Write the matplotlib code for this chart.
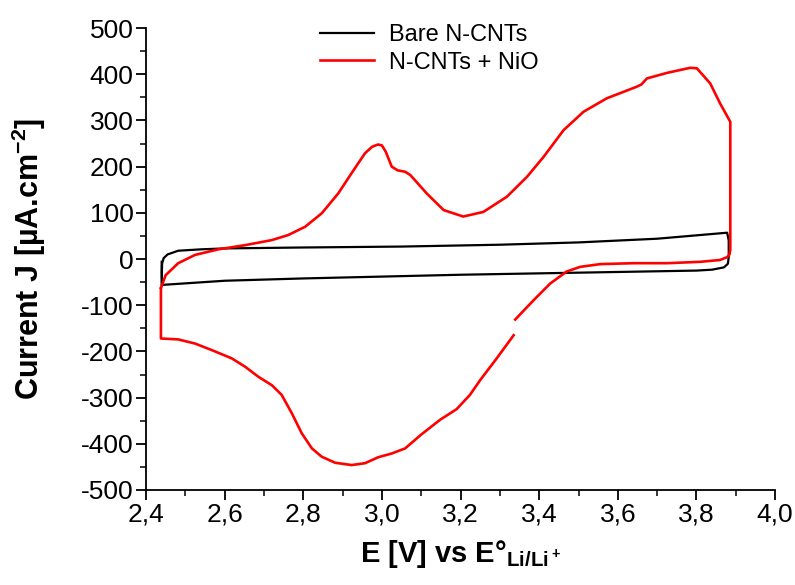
# CV curves: bare N-CNTs vs N-CNTs + NiO

import matplotlib
matplotlib.use("Agg")
import matplotlib.pyplot as plt
from matplotlib.ticker import MultipleLocator, FuncFormatter

plt.rcParams['font.family'] = ['Liberation Sans', 'DejaVu Sans']
plt.rcParams['mathtext.fontset'] = 'custom'
plt.rcParams['mathtext.rm'] = 'Liberation Sans'
plt.rcParams['mathtext.bf'] = 'Liberation Sans:bold'

# bare N-CNTs, one closed loop
bare_E = [2.440, 2.441, 2.445, 2.455, 2.482, 2.54, 2.60, 2.80, 3.05, 3.30, 3.50,
          3.70, 3.878, 3.882, 3.882, 3.880, 3.870, 3.840, 3.80, 3.60, 3.40,
          3.20, 3.05, 2.80, 2.60, 2.441, 2.440, 2.440]
bare_J = [-56, -10, 2, 10, 18, 21, 23, 25, 27, 31, 36,
          44, 57, 40, 5, -10, -18, -23, -25, -28, -31,
          -34, -37, -42, -47, -56, -30, -6]

# N-CNTs + NiO, first segment (anodic sweep, reversal, down to the gap)
nio_E1 = [2.438, 2.450, 2.482, 2.525, 2.584, 2.652, 2.720, 2.762, 2.805, 2.847,
          2.889, 2.923, 2.957, 2.975, 2.990, 3.000, 3.010, 3.025, 3.040, 3.059,
          3.072, 3.090, 3.114, 3.157, 3.207, 3.258, 3.318, 3.369, 3.411, 3.462,
          3.513, 3.572, 3.648, 3.660, 3.674, 3.725, 3.784, 3.801, 3.835, 3.860,
          3.886, 3.886, 3.886, 3.884, 3.878, 3.860, 3.810, 3.725, 3.640, 3.555,
          3.504, 3.470, 3.428, 3.386, 3.339]
nio_J1 = [-63, -35, -9, 9, 21, 30, 41, 52, 70, 99,
          142, 186, 229, 243, 248, 246, 232, 200, 192, 189,
          182, 165, 142, 106, 92, 102, 135, 178, 221, 279,
          319, 348, 373, 378, 391, 403, 414, 413, 380, 337,
          297, 150, 20, 10, 4, -2, -6, -9, -9, -11,
          -17, -27, -53, -89, -131]

# N-CNTs + NiO, second segment (after the gap, back to the start)
nio_E2 = [3.335, 3.292, 3.250, 3.224, 3.190, 3.148, 3.100, 3.059, 3.025, 2.991,
          2.957, 2.923, 2.881, 2.847, 2.822, 2.796, 2.771, 2.745, 2.720, 2.686,
          2.652, 2.618, 2.567, 2.525, 2.482, 2.438, 2.438]
nio_J2 = [-165, -215, -262, -294, -325, -348, -380, -410, -421, -429,
          -442, -446, -441, -428, -410, -377, -334, -294, -273, -255,
          -233, -215, -197, -183, -174, -172, -63]

fig = plt.figure(figsize=(7.95, 5.85), dpi=100)
ax = fig.add_axes([0.1836, 0.1624, 0.7914, 0.7896])

ax.plot(bare_E, bare_J, color='black', lw=1.6, label='Bare N-CNTs')
ax.plot(nio_E1, nio_J1, color='#ff0000', lw=1.9, label='N-CNTs + NiO')
ax.plot(nio_E2, nio_J2, color='#ff0000', lw=1.9)

ax.set_xlim(2.4, 4.0)
ax.set_ylim(-500, 500)
ax.xaxis.set_major_locator(MultipleLocator(0.2))
ax.xaxis.set_minor_locator(MultipleLocator(0.1))
ax.yaxis.set_major_locator(MultipleLocator(100))
ax.yaxis.set_minor_locator(MultipleLocator(50))
ax.xaxis.set_major_formatter(FuncFormatter(lambda v, p: ('%.1f' % v).replace('.', ',')))
ax.yaxis.set_major_formatter(FuncFormatter(lambda v, p: '%d' % round(v)))

ax.spines['top'].set_visible(False)
ax.spines['right'].set_visible(False)
for s in ['left', 'bottom']:
    ax.spines[s].set_linewidth(1.3)
ax.tick_params(which='major', direction='out', length=7, width=1.3, labelsize=19, pad=2)
ax.tick_params(which='minor', direction='out', length=4, width=1.1)

ax.set_xlabel(r'E [V] vs E°$_{\mathbf{Li/Li^+}}$', fontsize=21, fontweight='bold')
ax.set_ylabel(r'Current J [µA.cm$^{\mathbf{-2}}$]', fontsize=22, fontweight='bold')
ax.xaxis.set_label_coords(0.5, -0.105)
ax.yaxis.set_label_coords(-0.155, 0.5)

leg = ax.legend(loc='upper center', bbox_to_anchor=(0.45, 1.045), frameon=False,
                fontsize=17, handlelength=2.3, borderpad=0.2, labelspacing=0.25,
                handletextpad=0.6)

fig.savefig('out.png', dpi=100)
